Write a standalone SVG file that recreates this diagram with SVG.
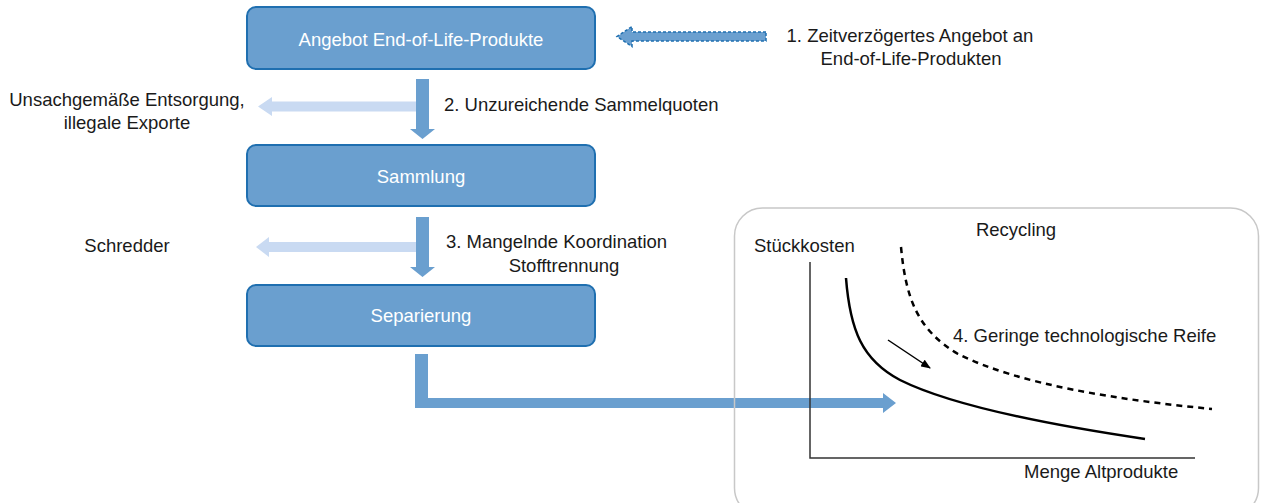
<svg xmlns="http://www.w3.org/2000/svg" width="1264" height="503" viewBox="0 0 1264 503">
<style>
text{font-family:"Liberation Sans",Arial,sans-serif;font-size:18.5px;fill:#1a1a1a}
.box{fill:#6a9fcf;stroke:#1f6fb0;stroke-width:2}
.bt{fill:#ffffff;text-anchor:middle}
.mid{text-anchor:middle}
.flow{fill:#6a9fcf}
.light{fill:#c9daf2}
.axis{fill:none;stroke:#333;stroke-width:1.5}
.curve{fill:none;stroke:#000;stroke-width:2.5}
</style>
<defs>
<marker id="ah" markerWidth="10" markerHeight="8" refX="9" refY="4" orient="auto" markerUnits="userSpaceOnUse">
<path d="M0,0 L10,4 L0,8 Z" fill="#000"/>
</marker>
</defs>
<g id="node-angebot">
<rect class="box" x="247" y="7" width="348" height="62" rx="9"/>
<text class="bt" x="421" y="46">Angebot End-of-Life-Produkte</text>
</g>
<g id="node-sammlung">
<rect class="box" x="247" y="145" width="348" height="61" rx="9"/>
<text class="bt" x="421" y="183">Sammlung</text>
</g>
<g id="node-separierung">
<rect class="box" x="247" y="285" width="348" height="61" rx="9"/>
<text class="bt" x="421" y="322">Separierung</text>
</g>
<g id="connectors">
<polygon class="flow" points="416,79 429,79 429,129 435,129 422.5,139 410,129 416,129"/>
<polygon class="flow" points="416,217 429,217 429,267 435,267 422.5,277 410,267 416,267"/>
<polygon class="light" points="416,101.5 272,101.5 272,97 258,106.5 272,116 272,111.5 416,111.5"/>
<polygon class="light" points="416,242 269,242 269,237 256,247 269,257 269,252 416,252"/>
<polygon class="flow" points="415,354 428,354 428,398 883,398 883,393 896,403 883,413 883,408 415,408"/>
<polygon points="766,32 632,32 632,26.5 617,36.5 632,46.5 632,41 766,41" fill="#6a9fcf" stroke="#1f6fb0" stroke-width="1.5" stroke-dasharray="3,2"/>
</g>
<g id="labels">
<text x="910" y="42" class="mid">1. Zeitverzögertes Angebot an</text>
<text x="911" y="65" class="mid">End-of-Life-Produkten</text>
<text x="127" y="106" class="mid">Unsachgemäße Entsorgung,</text>
<text x="127" y="129" class="mid">illegale Exporte</text>
<text x="444" y="111">2. Unzureichende Sammelquoten</text>
<text x="127" y="252" class="mid">Schredder</text>
<text x="446" y="248">3. Mangelnde Koordination</text>
<text x="564" y="272" class="mid">Stofftrennung</text>
</g>
<g id="node-recycling">
<rect x="734.5" y="208" width="524" height="308" rx="28" fill="none" stroke="#c8c8c8" stroke-width="1.5"/>
<text x="1016" y="236" class="mid">Recycling</text>
<text x="754" y="252">Stückkosten</text>
<path class="axis" d="M810,262 L810,458 L1195,458"/>
<path class="curve" d="M846,278 C850,330 862,360 900,380 C950,405 1050,425 1145,439"/>
<path class="curve" stroke-dasharray="6,5" d="M901,247 C906,300 918,330 958,354 C1020,385 1120,400 1212,409"/>
<line x1="888" y1="340" x2="930" y2="368" stroke="#000" stroke-width="1.5" marker-end="url(#ah)"/>
<text x="953" y="342">4. Geringe technologische Reife</text>
<text x="1024" y="478">Menge Altprodukte</text>
</g>
</svg>
